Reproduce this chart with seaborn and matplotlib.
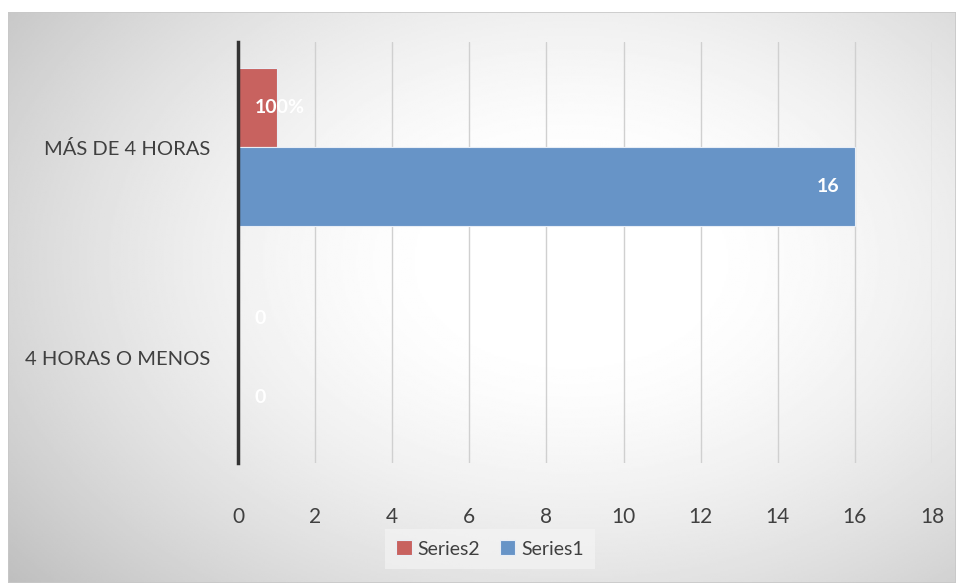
import numpy as np
import pandas as pd
import matplotlib
matplotlib.use("Agg")
import matplotlib.pyplot as plt
import seaborn as sns
from matplotlib.patches import Rectangle

categories = ["MÁS DE 4 HORAS", "4 HORAS O MENOS"]
series_names = ["Series2", "Series1"]
series2_values = [1, 0]
series1_values = [16, 0]
series2_labels = ["100%", "0"]
series1_labels = ["16", "0"]
x_ticks = [0, 2, 4, 6, 8, 10, 12, 14, 16, 18]

df = pd.DataFrame({
    "categoria": categories * 2,
    "serie": ["Series2"] * 2 + ["Series1"] * 2,
    "valor": series2_values + series1_values,
})

sns.set_theme(style="white")
plt.rcParams["font.family"] = ["Lato", "DejaVu Sans"]

fig = plt.figure(figsize=(9.56, 5.83), dpi=100)
fig.patch.set_facecolor("white")

# radial grey background of the chart area
bg = fig.add_axes([8 / 956, 0, 948 / 956, 571 / 583])
h, w = 300, 500
yy, xx = np.mgrid[0:h, 0:w]
px = xx / w * 948 + 8
py = yy / h * 571 + 12
r = np.sqrt(((px - 570) / 480) ** 2 + ((py - 260) / 330) ** 2)
val = 255 - 45 * np.clip(r - 0.25, 0, None) ** 1.5
img = np.clip(val, 0, 255) / 255
bg.imshow(img, cmap="gray", vmin=0, vmax=1, aspect="auto", extent=[0, 1, 0, 1])
bg.add_patch(Rectangle((0, 0), 1, 1, transform=bg.transAxes, fill=False,
                       edgecolor="#c8c8c8", lw=1.2))
bg.set_axis_off()

ax = fig.add_axes([238 / 956, 1 - 463 / 583, 694 / 956, 421 / 583])
ax.set_facecolor("none")

colors = {"Series2": "#C8625F", "Series1": "#6794C7"}
sns.barplot(data=df, y="categoria", x="valor", hue="serie", order=categories,
            hue_order=series_names, palette=colors, orient="h", width=0.75,
            saturation=1, edgecolor="#e8eef6", linewidth=0.8, ax=ax, zorder=3)

ax.set_xlim(0, 18)
ax.set_xticks(x_ticks)
ax.set_xlabel("")
ax.set_ylabel("")
ax.grid(axis="x", color="#d0d0d0", lw=1, zorder=0)
ax.grid(axis="y", visible=False)
for s in ["top", "right", "bottom"]:
    ax.spines[s].set_visible(False)
ax.spines["left"].set_color("#333333")
ax.spines["left"].set_linewidth(2.5)
ax.spines["left"].set_zorder(5)
ax.tick_params(axis="both", length=0, colors="#404040", labelsize=15)
ax.tick_params(axis="x", pad=32)
ax.tick_params(axis="y", pad=20, labelsize=14.5)

# data labels
label_sets = [series2_labels, series1_labels]
for cont, labels in zip(ax.containers, label_sets):
    for patch, lab in zip(cont.patches, labels):
        yc = patch.get_y() + patch.get_height() / 2
        wv = patch.get_width()
        if wv > 5:
            ax.annotate(lab, (wv, yc), xytext=(-11, 0), textcoords="offset points",
                        ha="right", va="center", color="white",
                        fontsize=14, fontweight="bold", zorder=6)
        else:
            ax.annotate(lab, (0, yc), xytext=(12, 0), textcoords="offset points",
                        ha="left", va="center", color="white",
                        fontsize=14, fontweight="bold", zorder=6)

leg = ax.legend(loc="center", bbox_to_anchor=(490 / 956, 1 - 549 / 583),
                bbox_transform=fig.transFigure, ncol=2, frameon=True,
                fontsize=14, handlelength=0.8, handleheight=0.8,
                handletextpad=0.3, columnspacing=1.0, borderpad=0.6)
leg.get_frame().set_facecolor("#f6f6f6")
leg.get_frame().set_edgecolor("none")
leg.get_frame().set_alpha(0.6)
leg.get_frame().set_boxstyle("square", pad=0)
for t in leg.get_texts():
    t.set_color("#404040")

fig.savefig("out.png", dpi=100)
